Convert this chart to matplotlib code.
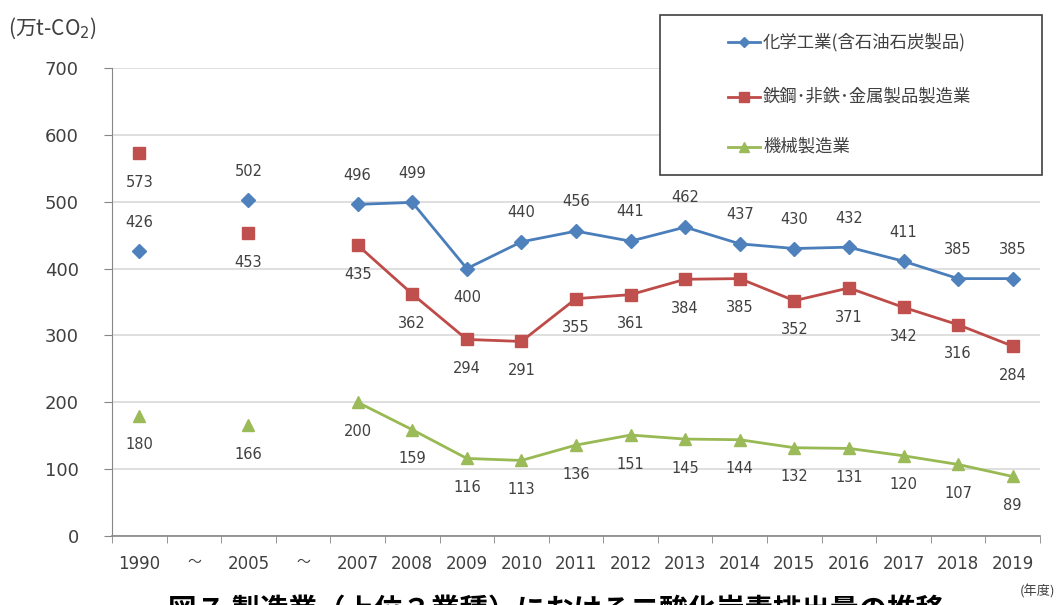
import numpy as np
import matplotlib
matplotlib.use("Agg")
import matplotlib.pyplot as plt
from matplotlib.lines import Line2D
from matplotlib.patches import Rectangle

plt.rcParams["font.family"] = ["DejaVu Sans", "Noto Sans CJK JP"]

# data
categories = ["1990", "～", "2005", "～", "2007", "2008", "2009", "2010", "2011",
              "2012", "2013", "2014", "2015", "2016", "2017", "2018", "2019"]
nan = np.nan
chemical = [426, nan, 502, nan, 496, 499, 400, 440, 456, 441, 462, 437, 430, 432, 411, 385, 385]
steel = [573, nan, 453, nan, 435, 362, 294, 291, 355, 361, 384, 385, 352, 371, 342, 316, 284]
machinery = [180, nan, 166, nan, 200, 159, 116, 113, 136, 151, 145, 144, 132, 131, 120, 107, 89]
series_names = ["化学工業(含石油石炭製品)", "鉄鋼･非鉄･金属製品製造業", "機械製造業"]

# label placement: +1 above the marker, -1 below
chemical_pos = [1, 0, 1, 0, 1, 1, -1, 1, 1, 1, 1, 1, 1, 1, 1, 1, 1]

W, H = 1058, 605
fig = plt.figure(figsize=(W / 100, H / 100), dpi=100)


def px(x, y):
    return x / W, 1 - y / H


ax = fig.add_axes([112 / W, 1 - 536 / H, (1040 - 112) / W, (536 - 68) / H])

blue, red, green = "#4A7EBB", "#BE4B48", "#98B954"
styles = [
    (chemical, blue, "D", 7, "#4F81BD"),
    (steel, red, "s", 9, "#C0504D"),
    (machinery, green, "^", 9, "#9BBB59"),
]
x = np.arange(len(categories))
for vals, col, mk, ms, mcol in styles:
    ax.plot(x, vals, color=col, lw=2, marker=mk, markersize=ms,
            markerfacecolor=mcol, markeredgecolor=mcol, zorder=3)

label_color = "#404040"
for vals, positions in [(chemical, chemical_pos),
                        (steel, [-1] * len(steel)),
                        (machinery, [-1] * len(machinery))]:
    for i, v in enumerate(vals):
        if np.isnan(v):
            continue
        ax.annotate(f"{int(v)}", (i, v), xytext=(0, 21 * positions[i]),
                    textcoords="offset points", ha="center", va="center",
                    fontsize=10.5, color=label_color)

ax.set_xlim(-0.5, len(categories) - 0.5)
ax.set_ylim(0, 700)
ax.set_yticks(range(0, 701, 100))
ax.set_xticks(x)
ax.set_xticklabels(categories)
ax.set_xticks(np.arange(-0.5, len(categories)), minor=True)
ax.tick_params(axis="x", which="major", length=0, pad=14, labelsize=12, labelcolor=label_color)
ax.tick_params(axis="x", which="minor", length=5, color="#868686", direction="out")
ax.tick_params(axis="y", length=6, color="#868686", labelsize=13, pad=18, labelcolor=label_color)
for lbl in ax.get_xticklabels():
    if lbl.get_text() == "～":
        lbl.set_fontfamily(["Noto Sans CJK JP"])
        lbl.set_fontsize(10)

ax.grid(axis="y", color="#D9D9D9", lw=1.2, zorder=0)
ax.set_axisbelow(True)
for side in ["top", "right"]:
    ax.spines[side].set_visible(False)
ax.spines["left"].set_color("#868686")
ax.spines["bottom"].set_color("#868686")
ax.spines["bottom"].set_linewidth(1.2)

# unit label
fig.text(*px(8, 28), "(万t-CO$_2$)", fontsize=15, color=label_color,
         ha="left", va="center", family=["Noto Sans CJK JP", "DejaVu Sans"])
fig.text(*px(1055, 592), "(年度)", fontsize=9.5, color=label_color,
         ha="right", va="center", family=["Noto Sans CJK JP", "DejaVu Sans"])

# legend drawn as a box over the chart
x0, y0 = px(660, 175)
x1, y1 = px(1042, 15)
fig.add_artist(Rectangle((x0, y0), x1 - x0, y1 - y0, transform=fig.transFigure,
                         facecolor="white", edgecolor="#404040", lw=1.2, zorder=5))
for (vals, col, mk, ms, mcol), name, ly in zip(styles, series_names, [42, 97, 147]):
    lx0, lyy = px(728, ly)
    lx1, _ = px(760, ly)
    lxm, _ = px(744, ly)
    fig.add_artist(Line2D([lx0, lx1], [lyy, lyy], transform=fig.transFigure,
                          color=col, lw=2, zorder=6))
    fig.add_artist(Line2D([lxm], [lyy], transform=fig.transFigure, marker=mk,
                          markersize=ms * 0.8, color=mcol, zorder=6))
    fig.text(*px(763, ly), name, fontsize=12.5, color=label_color, ha="left",
             va="center", zorder=7, family=["Noto Sans CJK JP", "DejaVu Sans"])

# figure title (cut at the bottom edge as in the source image)
fig.text(*px(556, 597), "図７ 製造業（上位３業種）における二酸化炭素排出量の推移",
         fontsize=20.5, fontweight="bold", color="black", ha="center", va="top",
         family=["Noto Sans CJK JP", "DejaVu Sans"])

fig.savefig("out.png", dpi=100)
